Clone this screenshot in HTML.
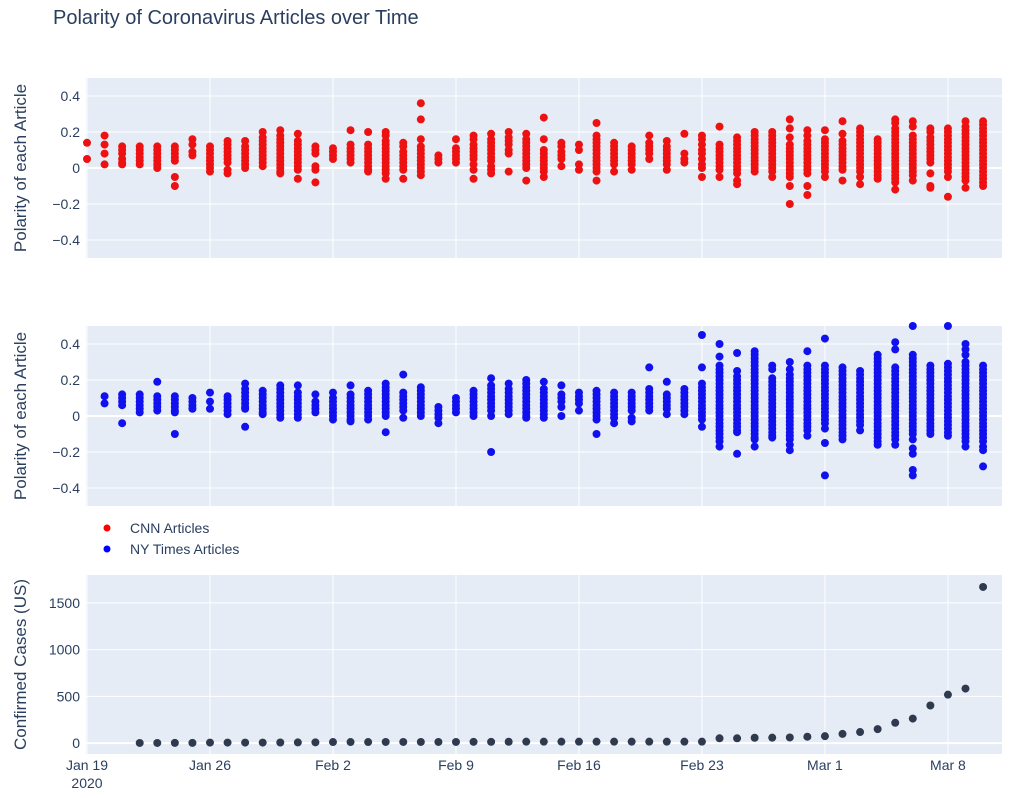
<!DOCTYPE html>
<html><head><meta charset="utf-8"><style>
body{margin:0;background:#fff;width:1015px;height:793px;overflow:hidden;font-family:"Liberation Sans",sans-serif}
svg text{font-family:"Liberation Sans",sans-serif;fill:#2a3f5f}
</style></head><body>
<svg id="chart" width="1015" height="793" xmlns="http://www.w3.org/2000/svg">
<text x="53" y="24" font-size="20">Polarity of Coronavirus Articles over Time</text>
<g>
<circle cx="107" cy="528" r="3.5" fill="red"></circle>
<text x="130" y="533" font-size="14">CNN Articles</text>
<circle cx="107" cy="549" r="3.5" fill="blue"></circle>
<text x="130" y="554" font-size="14">NY Times Articles</text>
</g>
</svg>
<script>
// Day index 0 = Jan 19 2020
const cnnDays = [0,1,2,3,4,5,6,7,8,9,10,11,12,13,14,15,16,17,18,19,20,21,22,23,24,25,26,27,28,29,30,31,32,33,34,35,36,37,38,39,40,41,42,43,44,45,46,47,48,49,50,51];
const cnnValues = [
[0.14,0.05],
[0.18,0.13,0.08,0.02],
[0.12,0.1,0.08,0.05,0.03,0.02],
[0.12,0.1,0.08,0.06,0.04,0.02],
[0.12,0.1,0.08,0.06,0.04,0.02,0.0],
[0.12,0.1,0.08,0.06,0.04,-0.05,-0.1],
[0.16,0.13,0.09,0.07],
[0.12,0.1,0.08,0.06,0.04,0.02,0.0,-0.02],
[0.15,0.13,0.11,0.09,0.07,0.05,0.03,-0.01,-0.03],
[0.15,0.12,0.1,0.08,0.06,0.04,0.02,0],
[0.2,0.17,0.15,0.13,0.11,0.09,0.07,0.05,0.03,0.01],
[0.21,0.18,0.16,0.14,0.12,0.1,0.08,0.06,0.04,0.02,0,-0.02,-0.03],
[0.19,0.15,0.13,0.11,0.09,0.07,0.05,0.03,0.01,-0.01,-0.06],
[0.12,0.1,0.08,0.01,-0.01,-0.08],
[0.11,0.09,0.07,0.05],
[0.21,0.13,0.11,0.09,0.07,0.05,0.03],
[0.2,0.13,0.11,0.09,0.07,0.05,0.03,0.01,-0.01,-0.02],
[0.2,0.18,0.15,0.13,0.11,0.09,0.07,0.05,0.03,0.01,-0.01,-0.03,-0.06],
[0.14,0.12,0.09,0.07,0.05,0.03,0.01,-0.01,-0.06],
[0.36,0.27,0.16,0.12,0.1,0.08,0.06,0.04,0.02,0,-0.02,-0.04],
[0.07,0.05,0.03],
[0.16,0.11,0.09,0.07,0.05,0.03],
[0.18,0.16,0.13,0.11,0.09,0.07,0.05,0.02,-0.01,-0.06],
[0.19,0.16,0.14,0.12,0.1,0.08,0.06,0.04,0.01,-0.01,-0.03],
[0.2,0.17,0.15,0.13,0.1,0.08,-0.02],
[0.19,0.16,0.14,0.12,0.1,0.08,0.06,0.04,0.02,0,-0.07],
[0.28,0.16,0.1,0.08,0.06,0.04,0.02,0,-0.02,-0.05],
[0.14,0.12,0.09,0.07,0.05,0.01],
[0.13,0.1,0.02,-0.01],
[0.25,0.18,0.16,0.14,0.12,0.1,0.08,0.06,0.04,0.02,0,-0.02,-0.07],
[0.14,0.12,0.1,0.08,0.06,0.04,0.02,-0.02],
[0.12,0.1,0.08,0.06,0.04,0.02,-0.01],
[0.18,0.14,0.12,0.1,0.08,0.05],
[0.15,0.12,0.1,0.08,0.06,0.04,0.02,-0.01],
[0.19,0.08,0.05,0.03],
[0.18,0.16,0.13,0.1,0.08,0.05,0.02,0,-0.05],
[0.23,0.13,0.11,0.09,0.07,0.05,0.03,0.01,-0.01,-0.05],
[0.17,0.15,0.13,0.11,0.09,0.07,0.05,0.03,0.01,-0.01,-0.03,-0.07,-0.09],
[0.2,0.18,0.16,0.14,0.12,0.1,0.08,0.06,0.04,0.02,0,-0.02],
[0.2,0.18,0.16,0.14,0.12,0.1,0.08,0.06,0.04,0.02,0,-0.02,-0.05],
[0.27,0.22,0.17,0.13,0.11,0.09,0.07,0.05,0.03,0.01,-0.01,-0.03,-0.05,-0.1,-0.2],
[0.21,0.18,0.15,0.13,0.11,0.09,0.07,0.05,0.03,0.01,-0.01,-0.03,-0.1,-0.15],
[0.21,0.16,0.14,0.12,0.1,0.08,0.06,0.04,0.02,0,-0.02,-0.05],
[0.26,0.19,0.15,0.13,0.11,0.09,0.07,0.05,0.03,0.01,-0.01,-0.07],
[0.22,0.2,0.18,0.16,0.14,0.12,0.1,0.08,0.06,0.04,0.02,0,-0.02,-0.05,-0.09],
[0.16,0.14,0.12,0.1,0.08,0.06,0.04,0.02,0,-0.02,-0.04,-0.06],
[0.27,0.25,0.22,0.2,0.18,0.16,0.14,0.12,0.1,0.08,0.06,0.04,0.02,0,-0.02,-0.04,-0.06,-0.08,-0.12],
[0.26,0.23,0.18,0.16,0.14,0.12,0.1,0.08,0.06,0.04,0.02,0,-0.02,-0.04,-0.07],
[0.22,0.2,0.17,0.15,0.13,0.11,0.09,0.07,0.05,0.03,-0.03,-0.1,-0.11],
[0.22,0.2,0.18,0.16,0.14,0.12,0.1,0.08,0.06,0.04,0.02,0,-0.02,-0.05,-0.16],
[0.26,0.23,0.21,0.19,0.17,0.15,0.13,0.11,0.09,0.07,0.05,0.03,0.01,-0.01,-0.03,-0.05,-0.07,-0.11],
[0.26,0.24,0.22,0.2,0.18,0.16,0.14,0.12,0.1,0.08,0.06,0.04,0.02,0,-0.02,-0.04,-0.06,-0.08,-0.1]
];
const nytDays = [1,2,3,4,5,6,7,8,9,10,11,12,13,14,15,16,17,18,19,20,21,22,23,24,25,26,27,28,29,30,31,32,33,34,35,36,37,38,39,40,41,42,43,44,45,46,47,48,49,50,51];
const nytValues = [
[0.11,0.07],
[0.12,0.1,0.08,0.06,-0.04],
[0.12,0.1,0.08,0.06,0.04,0.02],
[0.19,0.11,0.09,0.07,0.05,0.03],
[0.11,0.09,0.07,0.05,0.03,0.02,-0.1],
[0.1,0.08,0.06,0.04],
[0.13,0.08,0.04],
[0.11,0.09,0.07,0.05,0.03,0.01],
[0.18,0.15,0.13,0.11,0.09,0.07,0.05,0.04,-0.06],
[0.14,0.12,0.1,0.08,0.06,0.04,0.02,0.01],
[0.17,0.15,0.13,0.11,0.09,0.07,0.05,0.03,0.01,-0.01],
[0.17,0.13,0.11,0.09,0.07,0.05,0.03,0.01,-0.01],
[0.12,0.08,0.06,0.04,0.02],
[0.13,0.1,0.08,0.06,0.04,0.02,0,-0.02],
[0.17,0.12,0.1,0.08,0.06,0.04,0.02,0,-0.02,-0.03],
[0.14,0.12,0.1,0.08,0.06,0.04,0.02,0,-0.02],
[0.18,0.16,0.14,0.12,0.1,0.08,0.06,0.04,0.02,0,-0.09],
[0.23,0.13,0.11,0.09,0.07,0.05,0.03,-0.01],
[0.16,0.14,0.12,0.1,0.08,0.06,0.04,0.02,0],
[0.05,0.03,0.01,-0.01,-0.04],
[0.1,0.08,0.06,0.04,0.02],
[0.14,0.12,0.1,0.08,0.06,0.04,0.02,0],
[0.21,0.17,0.15,0.13,0.11,0.09,0.07,0.05,0.03,0,-0.2],
[0.18,0.15,0.13,0.11,0.09,0.07,0.05,0.03,0.01],
[0.2,0.18,0.16,0.14,0.12,0.1,0.08,0.06,0.04,0.02,0,-0.01],
[0.19,0.15,0.13,0.11,0.09,0.07,0.05,0.03,0.01,-0.01],
[0.17,0.12,0.1,0.08,0.05,0.0],
[0.13,0.11,0.09,0.07,0.03],
[0.14,0.12,0.1,0.08,0.06,0.04,0.02,0,-0.02,-0.1],
[0.13,0.11,0.09,0.07,0.05,0.03,0.01,-0.01,-0.04],
[0.13,0.11,0.09,0.07,0.05,0.03,-0.01,-0.03],
[0.27,0.15,0.13,0.11,0.09,0.07,0.05,0.03],
[0.19,0.12,0.1,0.08,0.06,0.04,0.01],
[0.15,0.13,0.11,0.09,0.07,0.05,0.03,0.01],
[0.45,0.27,0.18,0.16,0.14,0.12,0.1,0.08,0.06,0.04,0.02,0,-0.02,-0.06],
[0.4,0.33,0.28,0.26,0.24,0.22,0.2,0.18,0.16,0.14,0.12,0.1,0.08,0.06,0.04,0.02,0,-0.02,-0.04,-0.06,-0.08,-0.1,-0.12,-0.14,-0.17],
[0.35,0.25,0.22,0.2,0.18,0.16,0.14,0.12,0.1,0.08,0.06,0.04,0.02,0,-0.02,-0.04,-0.06,-0.08,-0.09,-0.21],
[0.36,0.34,0.32,0.3,0.28,0.26,0.24,0.22,0.2,0.18,0.16,0.14,0.12,0.1,0.08,0.06,0.04,0.02,0,-0.02,-0.04,-0.06,-0.08,-0.1,-0.12,-0.13,-0.17],
[0.28,0.26,0.21,0.19,0.17,0.15,0.13,0.11,0.09,0.07,0.05,0.03,0.01,-0.01,-0.03,-0.05,-0.07,-0.09,-0.11,-0.12],
[0.3,0.26,0.23,0.21,0.19,0.17,0.15,0.13,0.11,0.09,0.07,0.05,0.03,0.01,-0.01,-0.03,-0.05,-0.07,-0.09,-0.11,-0.13,-0.16,-0.19],
[0.36,0.28,0.26,0.24,0.22,0.2,0.18,0.16,0.14,0.12,0.1,0.08,0.06,0.04,0.02,0,-0.02,-0.04,-0.06,-0.08,-0.11],
[0.43,0.28,0.26,0.24,0.22,0.2,0.18,0.16,0.14,0.12,0.1,0.08,0.06,0.04,0.02,0,-0.02,-0.04,-0.07,-0.15,-0.33],
[0.27,0.25,0.23,0.21,0.19,0.17,0.15,0.13,0.11,0.09,0.07,0.05,0.03,0.01,-0.01,-0.03,-0.05,-0.07,-0.09,-0.11,-0.13],
[0.25,0.23,0.21,0.19,0.17,0.15,0.13,0.11,0.09,0.07,0.05,0.03,0.01,-0.01,-0.03,-0.05,-0.08],
[0.34,0.32,0.3,0.28,0.26,0.24,0.22,0.2,0.18,0.16,0.14,0.12,0.1,0.08,0.06,0.04,0.02,0,-0.02,-0.04,-0.06,-0.08,-0.1,-0.12,-0.14,-0.16],
[0.41,0.37,0.27,0.25,0.23,0.21,0.19,0.17,0.15,0.13,0.11,0.09,0.07,0.05,0.03,0.01,-0.01,-0.03,-0.05,-0.07,-0.09,-0.11,-0.13,-0.16],
[0.5,0.34,0.32,0.3,0.28,0.26,0.24,0.22,0.2,0.18,0.16,0.14,0.12,0.1,0.08,0.06,0.04,0.02,0,-0.02,-0.04,-0.06,-0.08,-0.1,-0.13,-0.18,-0.21,-0.3,-0.33],
[0.28,0.26,0.24,0.22,0.2,0.18,0.16,0.14,0.12,0.1,0.08,0.06,0.04,0.02,0,-0.02,-0.04,-0.06,-0.08,-0.1],
[0.5,0.29,0.27,0.25,0.23,0.21,0.19,0.17,0.15,0.13,0.11,0.09,0.07,0.05,0.03,0.01,-0.01,-0.03,-0.05,-0.07,-0.09,-0.11],
[0.4,0.37,0.34,0.3,0.28,0.26,0.24,0.22,0.2,0.18,0.16,0.14,0.12,0.1,0.08,0.06,0.04,0.02,0,-0.02,-0.04,-0.06,-0.08,-0.1,-0.12,-0.14,-0.17],
[0.28,0.26,0.24,0.22,0.2,0.18,0.16,0.14,0.12,0.1,0.08,0.06,0.04,0.02,0,-0.02,-0.04,-0.06,-0.08,-0.1,-0.12,-0.14,-0.17,-0.19,-0.28]
];
const caseDays = [3,4,5,6,7,8,9,10,11,12,13,14,15,16,17,18,19,20,21,22,23,24,25,26,27,28,29,30,31,32,33,34,35,36,37,38,39,40,41,42,43,44,45,46,47,48,49,50,51];
const caseValues = [1,1,2,2,5,5,5,5,6,7,8,11,11,11,12,12,12,12,12,13,13,14,15,15,15,15,15,15,15,15,15,15,15,51,51,57,58,60,68,74,98,118,149,217,262,402,518,583,1670];
const xTickLabels = ["Jan 19","Jan 26","Feb 2","Feb 9","Feb 16","Feb 23","Mar 1","Mar 8"];
const xTickDays = [0,7,14,21,28,35,42,49];
const polarityTicks = [-0.4,-0.2,0,0.2,0.4];
const polarityTickLabels = ["\u22120.4","\u22120.2","0","0.2","0.4"];
const caseTicks = [0,500,1000,1500];
const caseTickLabels = ["0","500","1000","1500"];

const NS="http://www.w3.org/2000/svg";
const svg=document.getElementById('chart');
const X0=86, X1=1002, R=4;
const xScale=d=>87+d*17.57;
function mk(tag,attrs,parent){const e=document.createElementNS(NS,tag);for(const k in attrs)e.setAttribute(k,attrs[k]);(parent||svg).appendChild(e);return e;}
function panel(name,top,bottom,yMin,yMax,ticks,labels,title){
  const g=mk('g',{});
  
  
  const ys=v=>bottom-(v-yMin)/(yMax-yMin)*(bottom-top);
  const bg=mk('rect',{x:X0,y:top,width:X1-X0,height:bottom-top,fill:'#e5ecf6'},g);
  
  
  xTickDays.forEach(d=>{const l=mk('line',{x1:xScale(d),x2:xScale(d),y1:top,y2:bottom,stroke:'#fff','stroke-width':1},g);
    
    });
  ticks.forEach((t,i)=>{const l=mk('line',{x1:X0,x2:X1,y1:ys(t),y2:ys(t),stroke:'#fff','stroke-width':t===0?2:1},g);
    
    
    const tx=mk('text',{x:X0-6,y:ys(t)+5,'font-size':14,'text-anchor':'end'},g);tx.textContent=labels[i];
    
    });
  const cy=(top+bottom)/2;
  const tt=mk('text',{x:0,y:0,'font-size':17,'text-anchor':'middle',transform:`translate(26,${cy}) rotate(-90)`},g);
  tt.textContent=title;
  
  
  return {g,ys};
}
const p1=panel('cnn',78,258,-0.5,0.5,polarityTicks,polarityTickLabels,'Polarity of each Article');
const p2=panel('nyt',326,506,-0.5,0.5,polarityTicks,polarityTickLabels,'Polarity of each Article');
const p3=panel('cases',575,754,-117,1798,caseTicks,caseTickLabels,'Confirmed Cases (US)');
cnnDays.forEach((d,i)=>cnnValues[i].forEach(v=>{const c=mk('circle',{cx:xScale(d),cy:p1.ys(v),r:R,fill:'#ee1111'},p1.g);
  
  }));
nytDays.forEach((d,i)=>nytValues[i].forEach(v=>{const c=mk('circle',{cx:xScale(d),cy:p2.ys(v),r:R,fill:'#1111ee'},p2.g);
  
  }));
caseDays.forEach((d,i)=>{const c=mk('circle',{cx:xScale(d),cy:p3.ys(caseValues[i]),r:R,fill:'#2f3a4f'},p3.g);
  
  });
xTickDays.forEach((d,i)=>{const t=mk('text',{x:xScale(d),y:770,'font-size':14,'text-anchor':'middle'});t.textContent=xTickLabels[i];
  
  });
const yr=mk('text',{x:xScale(0),y:788,'font-size':14,'text-anchor':'middle'});yr.textContent='2020';


</script>
</body></html>
